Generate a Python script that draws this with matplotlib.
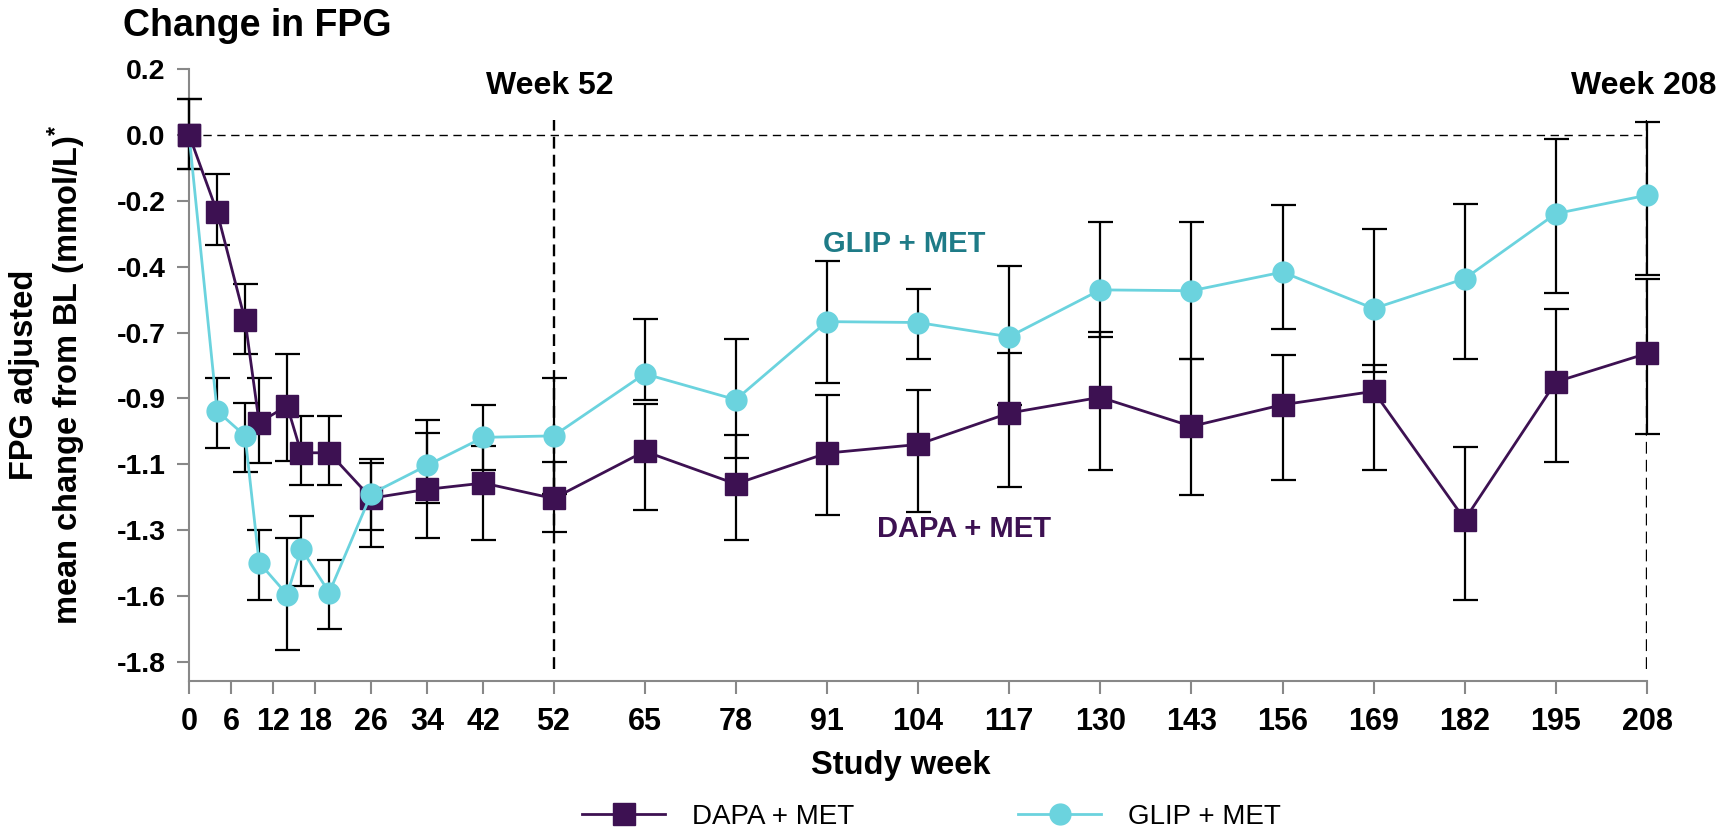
import matplotlib.pyplot as plt
import numpy as np

plt.rcParams['font.family'] = ['Liberation Sans', 'DejaVu Sans']
plt.rcParams['axes.unicode_minus'] = False
plt.rcParams['mathtext.fontset'] = 'custom'
plt.rcParams['mathtext.rm'] = 'Liberation Sans:bold'

# -------------------- data --------------------
weeks = [0, 4, 8, 10, 14, 16, 20, 26, 34, 42, 52, 65, 78, 91, 104, 117,
         130, 143, 156, 169, 182, 195, 208]

dapa_mean = [0, -0.26, -0.626, -0.97, -0.914, -1.072, -1.072, -1.225, -1.195,
             -1.174, -1.226, -1.067, -1.177, -1.073, -1.044, -0.938, -0.885,
             -0.983, -0.910, -0.865, -1.297, -0.833, -0.737]
dapa_hi = [0.121, -0.134, -0.502, -0.821, -0.738, -0.947, -0.947, -1.107, -1.004,
           -1.05, -1.103, -0.907, -1.013, -0.876, -0.861, -0.737, -0.665,
           -0.755, -0.744, -0.776, -1.051, -0.586, -0.488]
dapa_lo = [-0.115, -0.373, -0.738, -1.107, -1.100, -1.181, -1.181, -1.388, -1.360,
           -1.367, -1.339, -1.266, -1.367, -1.280, -1.273, -1.188, -1.131,
           -1.215, -1.163, -1.129, -1.568, -1.104, -1.008]

glip_mean = [0, -0.931, -1.015, -1.442, -1.550, -1.395, -1.543, -1.21, -1.114,
             -1.020, -1.015, -0.806, -0.893, -0.630, -0.633, -0.681, -0.523,
             -0.526, -0.463, -0.586, -0.485, -0.266, -0.204]
glip_hi = [0.121, -0.821, -0.903, -1.332, -1.360, -1.285, -1.432, -1.093, -0.962,
           -0.910, -0.819, -0.622, -0.689, -0.425, -0.519, -0.443, -0.295,
           -0.295, -0.238, -0.319, -0.235, -0.014, 0.044]
glip_lo = [-0.115, -1.055, -1.138, -1.568, -1.736, -1.522, -1.667, -1.332, -1.240,
           -1.129, -1.212, -0.893, -1.089, -0.837, -0.755, -0.91, -0.682,
           -0.755, -0.654, -0.80, -0.755, -0.534, -0.474]

tick_weeks = [0, 6, 12, 18, 26, 34, 42, 52, 65, 78, 91, 104, 117, 130, 143,
              156, 169, 182, 195, 208]
ytick_labels = ['0.2', '0.0', '-0.2', '-0.4', '-0.7', '-0.9', '-1.1', '-1.3',
                '-1.6', '-1.8']
week_marks = [52, 208]

dapa_color = '#3D1152'
glip_color = '#6BD3DE'
glip_text_color = '#1E7B87'

# -------------------- figure --------------------
fig = plt.figure(figsize=(17.31, 8.32), dpi=100)
ax = fig.add_axes([0.1092, 0.1815, 0.8423, 0.7359])

def err(mean, lo, hi):
    mean, lo, hi = np.array(mean), np.array(lo), np.array(hi)
    return [mean - lo, hi - mean]

ax.errorbar(weeks, dapa_mean, yerr=err(dapa_mean, dapa_lo, dapa_hi), fmt='none',
            ecolor='black', elinewidth=1.6, capsize=9, capthick=1.6, zorder=3,
            clip_on=False)
ax.errorbar(weeks, glip_mean, yerr=err(glip_mean, glip_lo, glip_hi), fmt='none',
            ecolor='black', elinewidth=1.6, capsize=9, capthick=1.6, zorder=3,
            clip_on=False)

ax.plot(weeks, dapa_mean, color=dapa_color, lw=2, marker='s', ms=16,
        mec=dapa_color, zorder=4, label='DAPA + MET', clip_on=False)
ax.plot(weeks, glip_mean, color=glip_color, lw=2, marker='o', ms=15,
        mec=glip_color, zorder=5, label='GLIP + MET', clip_on=False)
# baseline square sits on top of the circle
ax.plot(weeks[:1], dapa_mean[:1], ls='none', marker='s', ms=16,
        color=dapa_color, zorder=6, clip_on=False)

# reference lines
ax.axhline(0, color='black', lw=1, ls=(0, (6, 4)), zorder=1)
ax.vlines(week_marks, -1.80, 0.05, color='black', lw=1.7, ls=(0, (5, 2.6)), zorder=2)

for w in week_marks:
    ax.text(w - 0.5, 0.165, f'Week {w}', ha='center', va='center', fontsize=23,
            fontweight='bold')

ax.text(102, -0.37, 'GLIP + MET', color=glip_text_color, fontsize=21,
        fontweight='bold', ha='center', va='center')
ax.text(110.6, -1.33, 'DAPA + MET', color=dapa_color, fontsize=21,
        fontweight='bold', ha='center', va='center')

# -------------------- axes --------------------
ax.set_xlim(0, 208)
ax.set_ylim(-1.841, 0.222)
ax.set_xticks(tick_weeks)
ax.set_xticklabels([str(w) for w in tick_weeks], fontweight='bold')
ax.set_yticks(np.arange(1, -9, -1) * 2 / 9)
ax.set_yticklabels(ytick_labels, fontweight='bold')
ax.tick_params(axis='both', direction='out', length=9, width=1.5,
               color='#888888')
ax.tick_params(axis='x', pad=10, labelsize=22)
ax.tick_params(axis='y', pad=8, labelsize=20.5)

for s in ['top', 'right']:
    ax.spines[s].set_visible(False)
for s in ['left', 'bottom']:
    ax.spines[s].set_color('#888888')
    ax.spines[s].set_linewidth(1.5)

ax.set_xlabel('Study week', fontsize=23.5, fontweight='bold', va='top')
ax.xaxis.set_label_coords(0.488, -0.113)
ax.set_ylabel('FPG adjusted\nmean change from BL (mmol/L)$^{*}$', fontsize=23.5,
              fontweight='bold')
ax.yaxis.set_label_coords(-0.069, 0.5)

fig.text(0.0709, 0.9567, 'Change in FPG', fontsize=27, fontweight='bold',
         va='baseline', ha='left')

handles, labels = ax.get_legend_handles_labels()
fig.legend(handles, labels, loc='center', bbox_to_anchor=(0.538, 0.018), ncol=2,
           frameon=False, fontsize=20, handlelength=3.0, columnspacing=5.9,
           handletextpad=0.95, markerscale=1.0)

plt.savefig('out.png', dpi=100)
